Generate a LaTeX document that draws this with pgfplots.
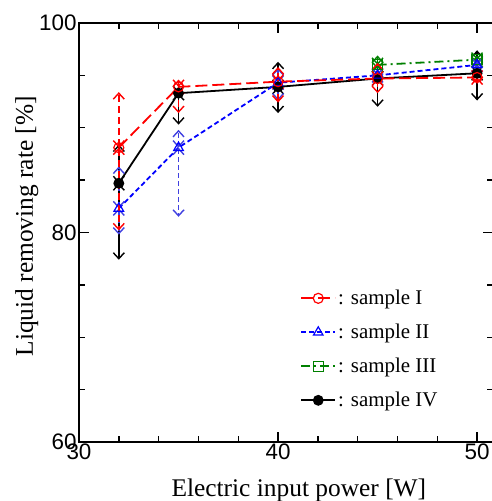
\documentclass[border=0pt]{standalone}
\usepackage{pgfplots}
\pgfplotsset{compat=1.18}
\usepackage{fontspec}
\setmainfont{Liberation Serif}
\newfontfamily\arialfont{Liberation Sans}
\usetikzlibrary{arrows.meta}

\definecolor{ebblue}{RGB}{64,64,224}
\definecolor{dgreen}{RGB}{0,128,0}

\tikzset{barb/.style={{Straight Barb[length=6bp,width=11bp,line width=1.4bp]}-{Straight Barb[length=6bp,width=11bp,line width=1.4bp]}}}

\begin{document}
\begin{tikzpicture}
\path[use as bounding box] (0,0) rectangle (492bp,501bp);
\begin{axis}[
    scale only axis,
    at={(79bp,59bp)}, anchor=south west,
    width=414bp, height=419bp,
    xmin=30, xmax=50.8,
    ymin=60, ymax=100,
    xtick={30,40,50}, ytick={60,80,100},
    minor x tick num=4, minor y tick num=3,
    tick align=inside,
    major tick length=10bp, minor tick length=6bp,
    every tick/.style={black, line width=1.4bp},
    axis line style={line width=1.8bp},
    /pgf/number format/assume math mode=true,
    ticklabel style={font=\arialfont\fontsize{22.5}{22.5}\selectfont},
    xticklabel style={yshift=2bp},
    yticklabel style={xshift=1bp},
    xlabel={Electric input power [W]},
    ylabel={Liquid removing rate [\%]},
    label style={font=\fontsize{25.5}{25.5}\selectfont},
    xlabel style={at={(rel axis cs:0.531,0)}, anchor=base, yshift=-54bp},
    ylabel style={at={(rel axis cs:0,0.515)}, anchor=base, yshift=46bp},
    legend style={draw=none, fill=none, at={(rel axis cs:0.527,0.372)}, anchor=north west,
        font=\fontsize{21}{21}\selectfont, row sep=14bp},
    legend cell align=left,
    reverse legend,
    legend image code/.code={\draw[mark repeat=2,mark phase=2] plot coordinates {(0bp,0bp) (17bp,0bp) (34bp,0bp)};},
]

% sample IV
\addplot[black, line width=1.8bp, mark=*, mark size=4.5bp, mark options={solid, fill=black},
    error bars/.cd, y dir=both, y explicit, error mark=none,
    error bar style={black, solid, line width=1.4bp, barb}]
coordinates {
    (32,84.7) += (0,3.7) -= (0,7.3)
    (35,93.3) += (0,0.6) -= (0,3.0)
    (40,93.9) += (0,2.4) -= (0,2.5)
    (45,94.7) += (0,1.3) -= (0,2.7)
    (50,95.2) += (0,2.2) -= (0,2.6)
};
\addlegendentry{: sample IV}

% sample III
\addplot[dgreen, line width=1.8bp, dash pattern=on 9bp off 4bp on 2bp off 4bp,
    mark=square, mark size=5bp, mark options={solid, line width=1.2bp},
    error bars/.cd, y dir=both, y explicit, error mark=none,
    error bar style={dgreen, solid, line width=1.4bp, barb}]
coordinates {
    (45,96.0) += (0,0.9) -= (0,0.4)
    (50,96.5) += (0,0.4) -= (0,0.4)
};
\addlegendentry{: sample III}

% sample II
\addplot[blue, line width=1.8bp, dash pattern=on 5bp off 3bp,
    mark=triangle, mark size=5.5bp, mark options={solid, line width=1.2bp},
    error bars/.cd, y dir=both, y explicit, error mark=none,
    error bar style={ebblue, dash pattern=on 5bp off 3bp, line width=1.4bp, barb}]
coordinates {
    (32,82.3) += (0,4.0) -= (0,2.5)
    (35,88.1) += (0,1.7) -= (0,6.6)
    (40,94.3) += (0,1.4) -= (0,1.7)
    (45,95.0) += (0,0.5) -= (0,0.5)
    (50,96.0) += (0,0.4) -= (0,0.4)
};
\addlegendentry{: sample II}

% sample I
\addplot[red, line width=1.8bp, dash pattern=on 12bp off 5bp,
    mark=o, mark size=5bp, mark options={solid, line width=1.2bp},
    error bars/.cd, y dir=both, y explicit, error mark=none,
    error bar style={red, dash pattern=on 7bp off 4bp, line width=1.4bp, barb}]
coordinates {
    (32,88.1) += (0,5.3) -= (0,7.9)
    (35,93.9) += (0,0.7) -= (0,2.5)
    (40,94.4) += (0,1.4) -= (0,2.0)
    (45,94.7) += (0,1.5) -= (0,1.4)
    (50,94.8) += (0,0.6) -= (0,0.6)
};
\addlegendentry{: sample I}

\end{axis}
\end{tikzpicture}
\end{document}
